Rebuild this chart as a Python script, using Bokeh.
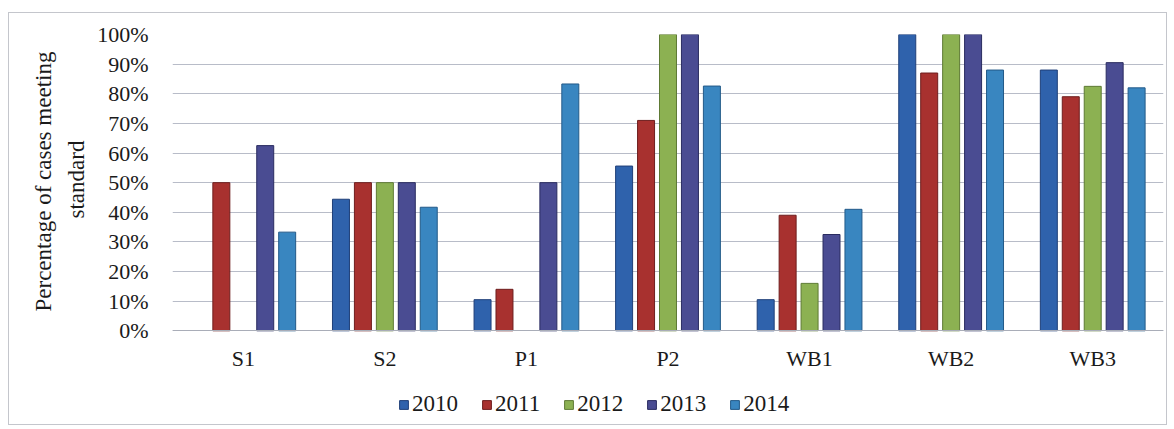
from bokeh.plotting import figure
from bokeh.models import ColumnDataSource, FactorRange, NumeralTickFormatter, Legend, LegendItem, FixedTicker, Title, Range1d
from bokeh.transform import dodge
from bokeh.embed import file_html
from bokeh.resources import INLINE

categories = ["S1", "S2", "P1", "P2", "WB1", "WB2", "WB3"]
years = ["2010", "2011", "2012", "2013", "2014"]
v2010 = [0.0, 0.444, 0.105, 0.556, 0.105, 1.0, 0.88]
v2011 = [0.50, 0.50, 0.14, 0.71, 0.39, 0.87, 0.79]
v2012 = [0.0, 0.50, 0.0, 1.0, 0.16, 1.0, 0.825]
v2013 = [0.625, 0.50, 0.50, 1.0, 0.325, 1.0, 0.905]
v2014 = [0.333, 0.417, 0.833, 0.826, 0.41, 0.88, 0.82]
yticks = [0, 0.1, 0.2, 0.3, 0.4, 0.5, 0.6, 0.7, 0.8, 0.9, 1.0]

series = [v2010, v2011, v2012, v2013, v2014]
fills = ["#2F62AC", "#A8312F", "#8CB152", "#4A4C92", "#3986C0"]
lines = ["#1F3F78", "#6E1E1E", "#5E7A34", "#2A2C60", "#235A88"]

data = {"cat": categories}
for y, s in zip(years, series):
    data["y" + y] = [float("nan") if v == 0 else v for v in s]
src = ColumnDataSource(data)

FONT = "Liberation Serif"
TXT = "#1a1a1a"
p = figure(width=1159, height=413, x_range=FactorRange(*categories, range_padding=0),
           y_range=Range1d(-0.3095, 1.0), output_backend="svg", toolbar_location=None,
           min_border_left=163, min_border_right=5, min_border_top=21, min_border_bottom=4)
p.margin = (12, 0, 0, 8)
p.styles = {"border": "1.5px solid #C4C6CC", "box-sizing": "border-box"}
p.outline_line_color = None
p.background_fill_color = "white"
p.border_fill_color = "white"

offsets = [-0.31, -0.155, 0.0, 0.155, 0.31]
items = []
for y, off, fc, lc in zip(years, offsets, fills, lines):
    r = p.vbar(x=dodge("cat", off, range=p.x_range), top="y" + y, width=0.12, source=src,
               fill_color=fc, line_color=lc, line_width=1)
    items.append(LegendItem(label=y, renderers=[r]))

p.yaxis.ticker = FixedTicker(ticks=yticks)
p.yaxis.formatter = NumeralTickFormatter(format="0%")
p.yaxis.axis_line_color = None
p.yaxis.major_tick_line_color = None
p.yaxis.minor_tick_line_color = None
p.yaxis.major_label_text_font = FONT
p.yaxis.major_label_text_font_size = "22px"
p.yaxis.major_label_text_color = TXT
p.yaxis.major_label_standoff = 18

p.xaxis.fixed_location = 0
p.xaxis.axis_line_color = "#A9ADB8"
p.xaxis.major_tick_line_color = None
p.xaxis.minor_tick_line_color = None
p.xaxis.major_label_text_font = FONT
p.xaxis.major_label_text_font_size = "22px"
p.xaxis.major_label_text_color = TXT
p.xaxis.major_label_standoff = 9

p.xgrid.grid_line_color = None
p.ygrid.grid_line_color = "#B8BCC8"
p.ygrid.grid_line_width = 1

for line, off, so in [("standard", 204, 12), ("Percentage of cases meeting", 111, 0)]:
    t = Title(text=line, align="left", offset=off, text_font=FONT, text_font_size="23px",
              text_font_style="normal", text_color=TXT, standoff=so, text_line_height=1.0)
    p.add_layout(t, "left")

legend = Legend(items=items, orientation="horizontal", location=(226, 5),
                label_text_font=FONT, label_text_font_size="23px", label_text_color=TXT,
                glyph_width=11, glyph_height=11, spacing=23, label_standoff=3,
                border_line_color=None, background_fill_alpha=0, padding=0, margin=0)
p.add_layout(legend, "center")

open("out.html", "w").write(file_html(p, INLINE))
